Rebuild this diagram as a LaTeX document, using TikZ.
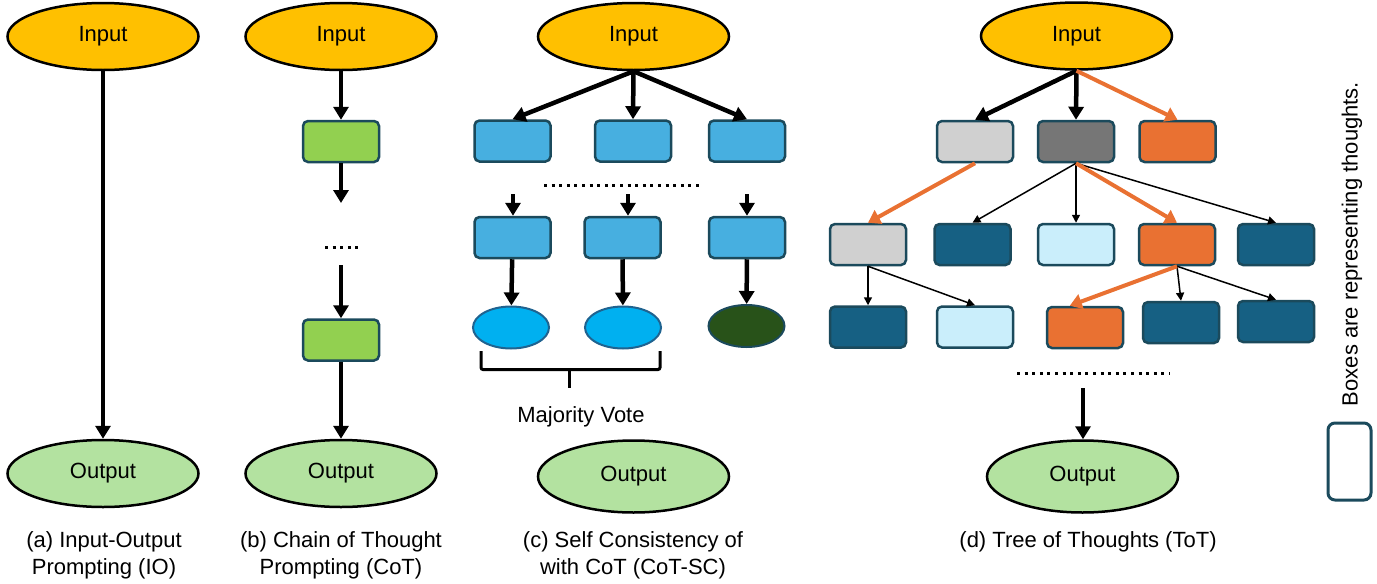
\documentclass[tikz,border=0pt]{standalone}
\usepackage{fontspec}
\setmainfont{Liberation Sans}
\usepackage{xcolor}
\usepackage{tikz}
\usetikzlibrary{arrows.meta, shapes.geometric}

\definecolor{ingold}{HTML}{FFC000}
\definecolor{outgreen}{HTML}{B3E2A0}
\definecolor{cotgreen}{HTML}{92D050}
\definecolor{scblue}{HTML}{47AFE0}
\definecolor{voteblue}{HTML}{00B0F0}
\definecolor{votegreen}{HTML}{285219}
\definecolor{totlgray}{HTML}{D0D0D0}
\definecolor{totdgray}{HTML}{767676}
\definecolor{totorange}{HTML}{E97132}
\definecolor{totdblue}{HTML}{166083}
\definecolor{totlblue}{HTML}{CAEEFB}
\definecolor{boxedge}{HTML}{1B4A5C}
\definecolor{voteedge}{HTML}{1F6390}

\tikzset{
  inell/.style={ellipse, draw=black, line width=2.5pt, fill=ingold, minimum width=191pt, minimum height=67pt, inner sep=0pt},
  outell/.style={inell, fill=outgreen},
  thought/.style={rectangle, rounded corners=5pt, draw=boxedge, line width=2.5pt, minimum width=76pt, minimum height=41pt, inner sep=0pt},
  vote/.style={ellipse, draw=voteedge, line width=2pt, minimum width=76pt, minimum height=42pt, inner sep=0pt},
  bigarrow/.style={line width=4.5pt, -{Triangle[length=13pt,width=15pt]}},
  thinarrow/.style={line width=1.5pt, -{Triangle[length=8pt,width=8pt]}},
  hotarrow/.style={draw=totorange, line width=4pt, -{Triangle[length=12pt,width=15pt]}},
  dotline/.style={line width=3pt, dash pattern=on 3pt off 4.6pt},
  subcap/.style={align=center, inner sep=0pt}
}

\begin{document}
\begin{tikzpicture}[x=1pt, y=-1pt, font=\fontsize{22}{27}\selectfont]
	\useasboundingbox (0,0) rectangle (1377,584);
	% (a) input-output:
	\node[inell](inA) at (103, 36.5){Input};
	\node[outell](outA) at (103, 473.5){Output};
	\draw[bigarrow] (inA) -- (outA);
	\node[subcap](capA) at (104, 555){(a) Input-Output\\Prompting (IO)};
	% (b) chain of thought:
	\node[inell](inB) at (341, 36.5){Input};
	\node[thought, fill=cotgreen](b1) at (341, 141.5){};
	\coordinate (b1end) at (341, 203);
	\coordinate (b2start) at (341, 265);
	\node[thought, fill=cotgreen](b2) at (341, 340){};
	\node[outell](outB) at (341, 473.5){Output};
	\draw[bigarrow] (inB) -- (b1);
	\draw[bigarrow] (b1) -- (b1end);
	\draw[dotline] (325, 247) -- (360, 247);
	\draw[bigarrow] (b2start) -- (b2);
	\draw[bigarrow] (b2) -- (outB);
	\node[subcap](capB) at (341, 555){(b) Chain of Thought\\Prompting (CoT)};
	% (c) self consistency:
	\node[inell](inC) at (633.5, 36.5){Input};
	\node[thought, fill=scblue](c1) at (512.5, 141){};
	\node[thought, fill=scblue](c2) at (633, 141){};
	\node[thought, fill=scblue](c3) at (747, 141){};
	\draw[bigarrow] (inC.south) -- (c1.north);
	\draw[bigarrow] (inC.south) -- (c2.north);
	\draw[bigarrow] (inC.south) -- (c3.north);
	\draw[dotline] (544, 185) -- (700, 185);
	\node[thought, fill=scblue](c4) at (512.5, 237.5){};
	\node[thought, fill=scblue](c5) at (622.5, 237.5){};
	\node[thought, fill=scblue](c6) at (747, 237.5){};
	\coordinate (s4) at (513, 194);
	\coordinate (s5) at (628, 194);
	\coordinate (s6) at (747, 194);
	\draw[bigarrow] (s4) -- (s4 |- c4.north);
	\draw[bigarrow] (s5) -- (s5 |- c5.north);
	\draw[bigarrow] (s6) -- (s6 |- c6.north);
	\node[vote, fill=voteblue](e1) at (511, 327.5){};
	\node[vote, fill=voteblue](e2) at (623, 327.5){};
	\node[vote, fill=votegreen, draw=boxedge](e3) at (746.5, 326){};
	\draw[bigarrow] (c4) -- (e1);
	\draw[bigarrow] (c5) -- (e2);
	\draw[bigarrow] (c6) -- (e3);
	\draw[line width=3pt, rounded corners=2pt] (481, 351) |- (660, 369.5) -- (660, 351);
	\draw[line width=3pt] (569, 369.5) -- (569, 388);
	\node(vote) at (581, 417){Majority Vote};
	\node[outell, minimum height=72pt](outC) at (633.5, 476.5){Output};
	\node[subcap](capC) at (633, 555){(c) Self Consistency of\\with CoT (CoT-SC)};
	% (d) tree of thoughts:
	\node[inell](inD) at (1076.5, 36){Input};
	\node[thought, fill=totlgray](g1) at (975, 141.5){};
	\node[thought, fill=totdgray](g2) at (1076, 141.5){};
	\node[thought, fill=totorange](g3) at (1177.5, 141.5){};
	\node[thought, fill=totlgray](h1) at (868, 244.5){};
	\node[thought, fill=totdblue](h2) at (972.5, 244.5){};
	\node[thought, fill=totlblue](h3) at (1076, 244.5){};
	\node[thought, fill=totorange](h4) at (1177, 244.5){};
	\node[thought, fill=totdblue](h5) at (1276, 244.5){};
	\node[thought, fill=totdblue](k1) at (868, 327){};
	\node[thought, fill=totlblue](k2) at (975, 327){};
	\node[thought, fill=totorange](k3) at (1085, 327.5){};
	\node[thought, fill=totdblue](k4) at (1181, 322.5){};
	\node[thought, fill=totdblue](k5) at (1276, 321.5){};
	\draw[bigarrow] (inD.south) -- (g1.north);
	\draw[bigarrow] (inD.south) -- (g2.north);
	\draw[hotarrow] (inD.south) -- (g3.north);
	\draw[hotarrow] (g1.south) -- (h1.north);
	\draw[thinarrow] (g2.south) -- (h2.north);
	\draw[thinarrow] (g2.south) -- (h3.north);
	\draw[thinarrow] (g2.south) -- (h5.north);
	\draw[hotarrow] (g2.south) -- (h4.north);
	\draw[thinarrow] (h1.south) -- (k1.north);
	\draw[thinarrow] (h1.south) -- (k2.north);
	\draw[thinarrow] (h4.south) -- (k4.north);
	\draw[thinarrow] (h4.south) -- (k5.north);
	\draw[hotarrow] (h4.south) -- (k3.125);
	\draw[dotline] (1017, 373) -- (1170, 373);
	\coordinate (dstart) at (1083, 388);
	\node[outell, minimum height=72pt](outD) at (1082.5, 476.5){Output};
	\draw[bigarrow] (dstart) -- (dstart |- outD.north);
	\node[subcap](capD) at (1088, 542){(d) Tree of Thoughts (ToT)};
	% legend:
	\node[rotate=90](legtext) at (1352, 244){Boxes are representing thoughts.};
	\node[thought, fill=white, line width=3pt, rounded corners=7pt, minimum width=43pt, minimum height=77pt](legbox) at (1349.5, 461.5){};
\end{tikzpicture}
\end{document}
